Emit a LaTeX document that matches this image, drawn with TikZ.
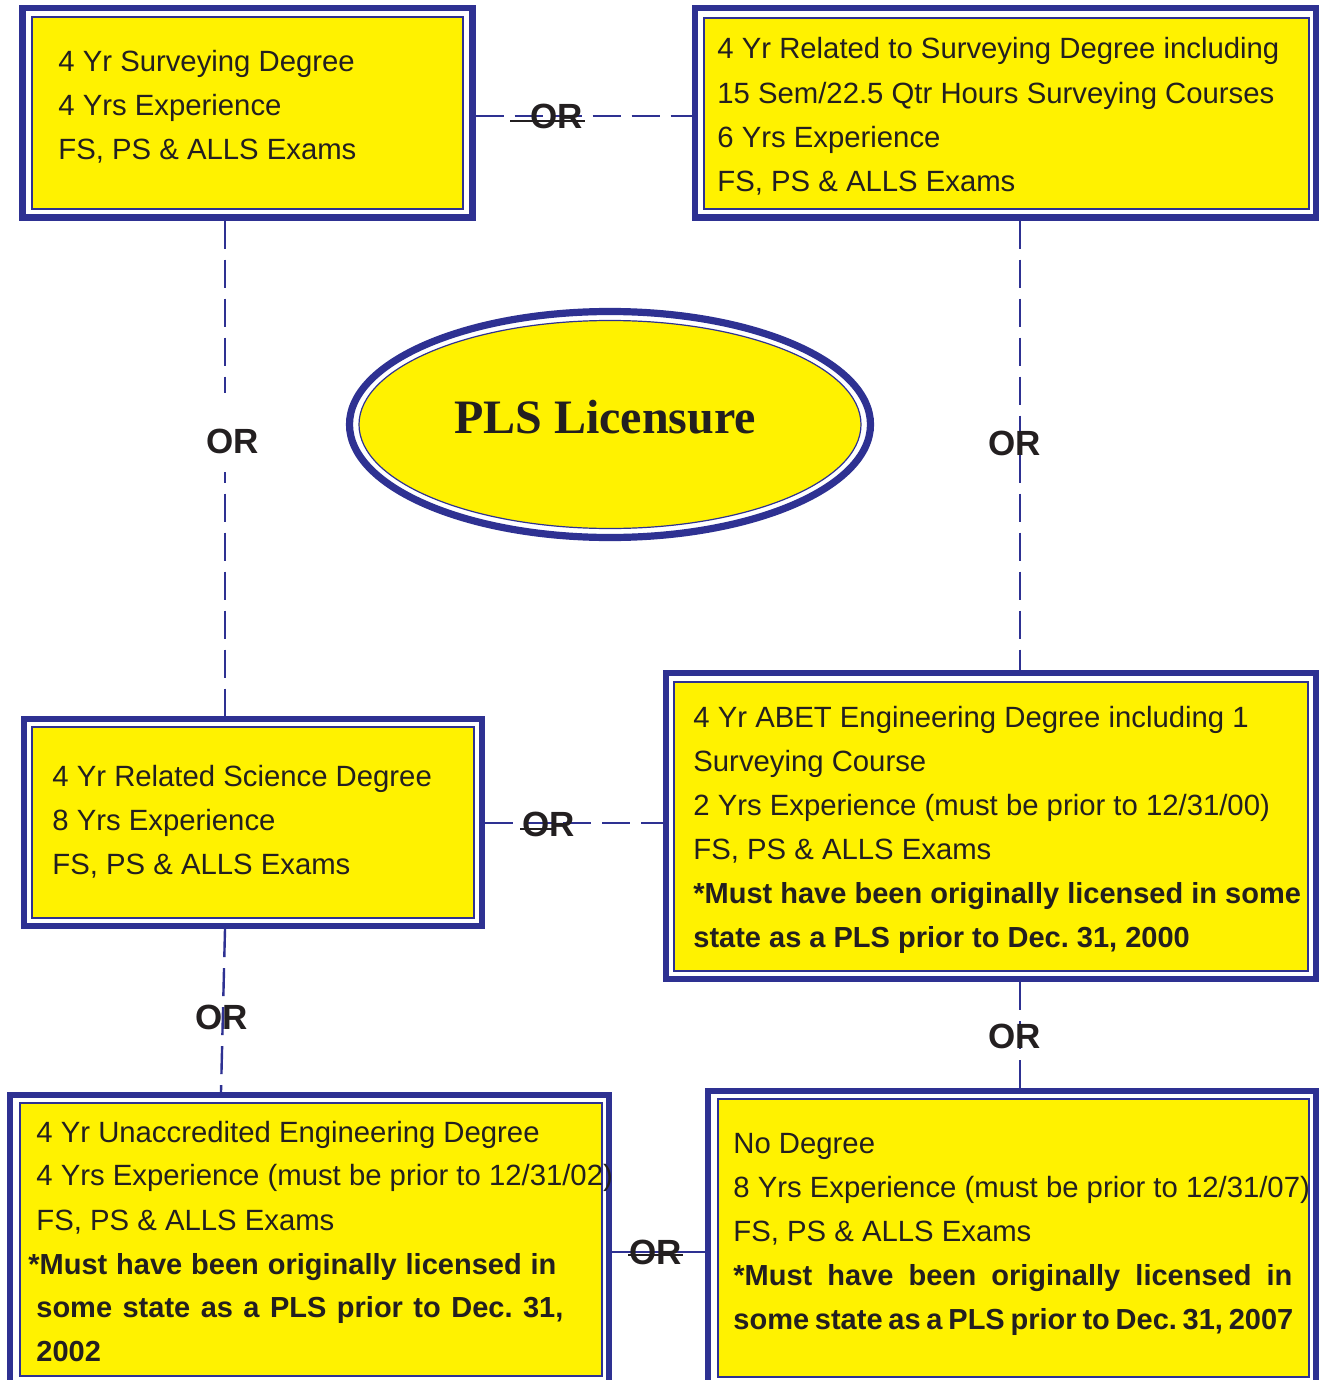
\documentclass[tikz,border=0pt]{standalone}
\usepackage{fontspec}
\setmainfont{Liberation Sans}
\newfontfamily\titlefont{Liberation Serif}
\usetikzlibrary{shapes.geometric,calc}
\definecolor{pblue}{HTML}{2E3192}
\definecolor{pyellow}{HTML}{FFF200}
\definecolor{ptext}{HTML}{231F20}
\frenchspacing
\begin{document}
\frenchspacing
\begin{tikzpicture}[x=0.5pt,y=-0.5pt,
  outerbox/.style={draw=pblue, line width=3.2pt, fill=white, rectangle, inner sep=0pt},
  innerbox/.style={draw=pblue, line width=0.6pt, fill=pyellow},
  conn/.style={draw=pblue, line width=1.2pt},
  dsh/.style={dash pattern=on 14pt off 5.5pt},
  txt/.style={anchor=base west, inner sep=0pt, text=ptext, font=\frenchspacing\fontsize{14.65pt}{17pt}\selectfont},
  btxt/.style={anchor=base west, inner sep=0pt, text=ptext, font=\frenchspacing\fontsize{14.5pt}{17pt}\selectfont\bfseries},
  orlab/.style={inner sep=0pt, text=ptext, font=\fontsize{17.5pt}{20pt}\selectfont\bfseries},
  strike/.style={draw=ptext, line width=0.8pt}]

\useasboundingbox (0,0) rectangle (1320,1380);
\clip (0,0) rectangle (1320,1380);
\fill[white] (0,0) rectangle (1320,1380);

% boxes (outer borders)
\node[outerbox, minimum width=225pt, minimum height=104.75pt] (b1) at (247.5,112.75) {};
\node[outerbox, minimum width=310.5pt, minimum height=104.75pt] (b2) at (1005.5,112.75) {};
\node[outerbox, minimum width=229pt, minimum height=103.5pt] (b3) at (253,822.5) {};
\node[outerbox, minimum width=325pt, minimum height=153pt] (b4) at (991,826) {};
\node[outerbox, minimum width=299.5pt, minimum height=152.5pt] (b5) at (309.5,1247.5) {};
\node[outerbox, minimum width=304pt, minimum height=154.5pt] (b6) at (1012,1245.5) {};

% inner yellow panels
\draw[innerbox] (32,17) rectangle (463,209);
\draw[innerbox] (704,18) rectangle (1309,209);
\draw[innerbox] (32,727) rectangle (474,918);
\draw[innerbox] (674,682) rectangle (1308,971);
\draw[innerbox] (20,1103) rectangle (602,1376);
\draw[innerbox] (718,1099) rectangle (1309,1377);

% ellipse
\node[ellipse, draw=pblue, line width=3.6pt, fill=white, minimum width=260.5pt, minimum height=113pt, inner sep=0pt] (ell) at (610,424.5) {};
\draw[innerbox] (ell.center) ellipse [x radius=125.5pt, y radius=52pt];
\node[anchor=base, inner sep=0pt, text=ptext, font=\titlefont\fontsize{24pt}{28pt}\selectfont\bfseries] (title) at (605,433) {PLS Licensure};

% connectors
\coordinate (xL) at (225,0);
\coordinate (xL2) at (221,0);
\coordinate (xR) at (1020,0);
\coordinate (yT) at (0,116);
\coordinate (yM) at (0,823);
\coordinate (yB) at (0,1252);
\draw[conn,dsh] (b1.south -| xL) -- (b3.north -| xL);
\draw[conn,dsh] (b2.south -| xR) -- (b4.north -| xR);
\draw[conn,dsh] (b1.east |- yT) -- (b2.west |- yT);
\draw[conn,dsh] (b3.east |- yM) -- (b4.west |- yM);
\draw[conn,dsh] (b3.south -| xL) -- (b5.north -| xL2);
\draw[conn,dsh] (b4.south -| xR) -- (b6.north -| xR);
\draw[conn] (b5.east |- yB) -- (b6.west |- yB);
\fill[white] (215,393) rectangle (235,472);

% OR labels
\node[orlab] (orT) at (557,116.5) {OR};
\node[orlab] (orL) at (233,441.5) {OR};
\node[orlab] (orR) at (1015,443.5) {OR};
\node[orlab] (orM) at (549,824.5) {OR};
\node[orlab] (orLL) at (221.5,1017.5) {OR};
\node[orlab] (orLR) at (1015,1036) {OR};
\node[orlab] (orB) at (656,1252.5) {OR};
\draw[strike] ($(orT.center)+(-47,4.5)$) -- ($(orT.center)+(28,4.5)$);
\draw[strike] ($(orM.center)+(-29,4.5)$) -- ($(orM.center)+(4,4.5)$);
\draw[strike] ($(orB.center)+(-28,2.5)$) -- ($(orB.center)+(27,2.5)$);

% box 1 text
\node[txt] (t1a) at (58,72) {4 Yr Surveying Degree};
\node[txt] (t1b) at (58,116) {4 Yrs Experience};
\node[txt] (t1c) at (58,160) {FS, PS \& ALLS Exams};

% box 2 text
\node[txt] (t2a) at (717,59) {4 Yr Related to Surveying Degree including};
\node[txt] (t2b) at (717,104) {15 Sem/22.5 Qtr Hours Surveying Courses};
\node[txt] (t2c) at (717,148) {6 Yrs Experience};
\node[txt] (t2d) at (717,192) {FS, PS \& ALLS Exams};

% box 3 text
\node[txt] (t3a) at (52,786) {4 Yr Related Science Degree};
\node[txt] (t3b) at (52,830) {8 Yrs Experience};
\node[txt] (t3c) at (52,874) {FS, PS \& ALLS Exams};

% box 4 text
\node[txt] (t4a) at (693,727) {4 Yr ABET Engineering Degree including 1};
\node[txt] (t4b) at (693,771) {Surveying Course};
\node[txt] (t4c) at (693,815) {2 Yrs Experience (must be prior to 12/31/00)};
\node[txt] (t4d) at (693,859) {FS, PS \& ALLS Exams};
\node[btxt] (t4e) at (693,903) {*Must have been originally licensed in some};
\node[btxt] (t4f) at (693,947) {state as a PLS prior to Dec. 31, 2000};

% box 5 text
\node[txt] (t5a) at (36,1142) {4 Yr Unaccredited Engineering Degree};
\node[txt] (t5b) at (36,1185) {4 Yrs Experience (must be prior to 12/31/02)};
\node[txt] (t5c) at (36,1230) {FS, PS \& ALLS Exams};
\node[btxt] (t5d) at (28,1274) {\makebox[264pt][s]{*Must have been originally licensed in}};
\node[btxt] (t5e) at (36,1317) {\makebox[263.5pt][s]{some state as a PLS prior to Dec. 31,}};
\node[btxt] (t5f) at (36,1361) {2002};

% box 6 text
\node[txt] (t6a) at (733,1153) {No Degree};
\node[txt] (t6b) at (733,1197) {8 Yrs Experience (must be prior to 12/31/07)};
\node[txt] (t6c) at (733,1241) {FS, PS \& ALLS Exams};
\node[btxt] (t6d) at (733,1285) {\makebox[279.5pt][s]{*Must have been originally licensed in}};
\node[btxt] (t6e) at (733,1329) {\makebox[280pt][s]{some state as a PLS prior to Dec. 31, 2007}};
\end{tikzpicture}
\end{document}
